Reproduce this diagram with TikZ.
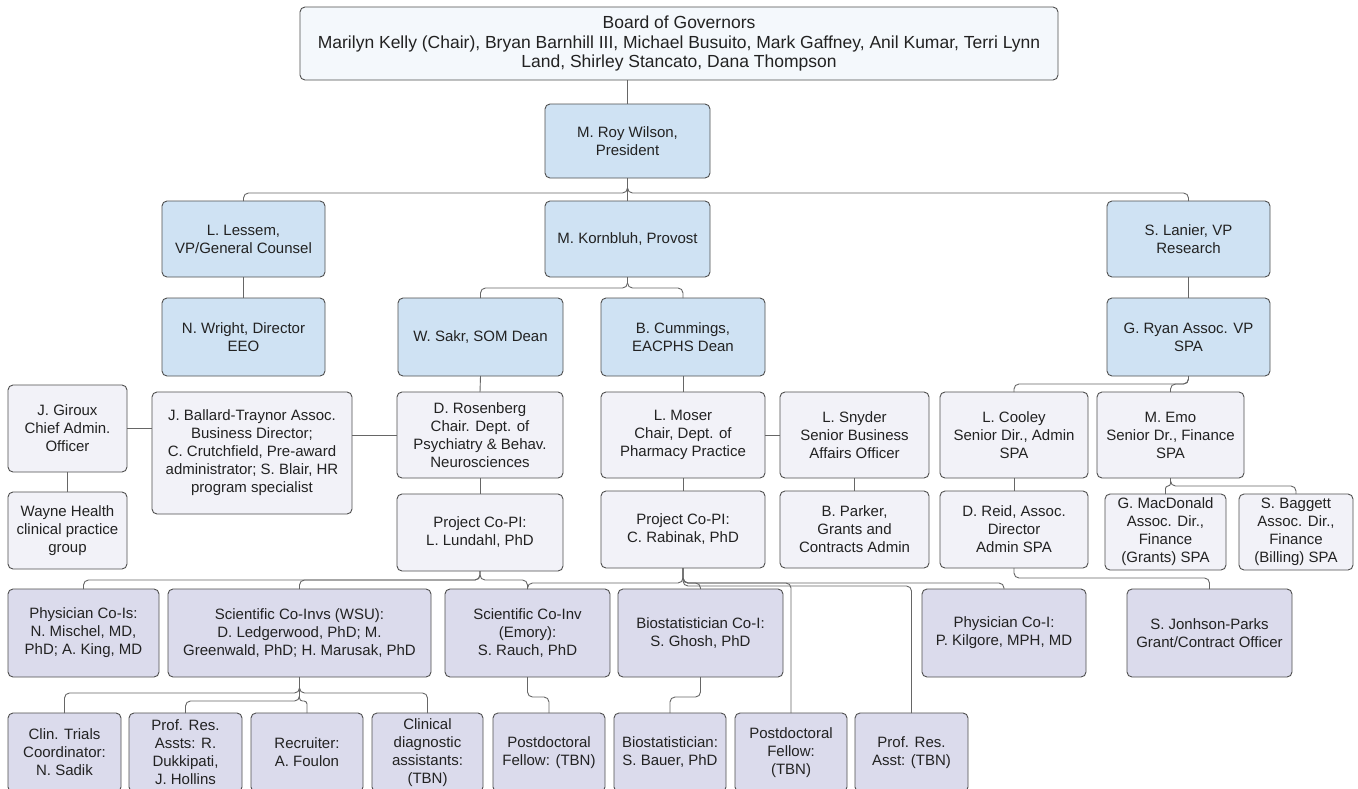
\documentclass[tikz,border=0pt]{standalone}
\usepackage{fontspec}
\setmainfont{Liberation Sans}
\definecolor{boardfill}{HTML}{F4F8FC}
\definecolor{bluefill}{HTML}{CFE2F3}
\definecolor{greyfill}{HTML}{F2F2F8}
\definecolor{lavfill}{HTML}{DBDBEC}
\definecolor{boxline}{HTML}{4F4F4F}
\definecolor{linec}{HTML}{666666}
\definecolor{txt}{HTML}{222222}
\newcommand\obox[7]{\node[#1, minimum width={(#4)-(#3)}, minimum height={(#6)-(#5)}] (#2) at ({((#3)+(#4))/2},{((#5)+(#6))/2}) {#7};}
\newcommand\elbow[4][]{\draw[link,#1] (#2.south) -- (#2.south |- #4) -| (#3.north);}
\begin{document}
\begin{tikzpicture}[x=1pt,y=-1pt,
  box/.style={draw=boxline, line width=0.9pt, rounded corners=5pt, align=center, inner sep=0pt, outer sep=0pt, text=txt, font=\fontsize{15}{18}\selectfont},
  topbox/.style={box, fill=boardfill, font=\fontsize{17.5}{19.5}\selectfont},
  bluebox/.style={box, fill=bluefill},
  greybox/.style={box, fill=greyfill},
  lavbox/.style={box, fill=lavfill},
  link/.style={draw=linec, line width=0.9pt, rounded corners=5pt}]
\fill[white] (0,0) rectangle (1358,788);
\useasboundingbox (0,0) rectangle (1358,788);
\clip (0,0) rectangle (1358,788);

% bus coordinates
\coordinate (busA) at (0,193);
\coordinate (busK) at (0,288);
\coordinate (busR) at (0,384);
\coordinate (busE) at (0,486);
\coordinate (busL) at (0,580);
\coordinate (busC) at (0,583);
\coordinate (busC2) at (0,586);
\coordinate (busD) at (0,578);
\coordinate (busW) at (0,693);
\coordinate (busW2) at (0,701);
\coordinate (busS) at (0,697);

% level 1-2
\obox{topbox}{board}{300}{1058}{7}{80}{Board of Governors\\Marilyn Kelly (Chair), Bryan Barnhill III, Michael Busuito, Mark Gaffney, Anil Kumar, Terri Lynn\\Land, Shirley Stancato, Dana Thompson}
\obox{bluebox}{wilson}{545}{710}{104}{178}{M. Roy Wilson,\\President}
% level 3
\obox{bluebox}{lessem}{162}{325}{201}{277}{L. Lessem,\\VP/General Counsel}
\obox{bluebox}{kornbluh}{545}{710}{201}{277}{M. Kornbluh, Provost}
\obox{bluebox}{lanier}{1107}{1270}{201}{277}{S. Lanier, VP\\Research}
% level 4
\obox{bluebox}{wright}{162}{325}{298}{376}{N. Wright, Director\\EEO}
\obox{bluebox}{sakr}{398}{563}{298}{376}{W. Sakr, SOM Dean}
\obox{bluebox}{cummings}{601}{765}{298}{376}{B. Cummings,\\EACPHS Dean}
\obox{bluebox}{ryan}{1107}{1270}{298}{376}{G. Ryan Assoc. VP\\SPA}
% level 5-6
\obox{greybox}{giroux}{8}{127}{385}{472}{J. Giroux\\Chief Admin.\\Officer}
\obox{greybox}{wayne}{8}{127}{492}{569}{Wayne Health\\clinical practice\\group}
\obox{greybox}{ballard}{152}{352}{392}{514}{J. Ballard-Traynor Assoc.\\Business Director;\\C. Crutchfield, Pre-award\\administrator; S. Blair, HR\\program specialist}
\obox{greybox}{rosenberg}{397}{563}{392}{478}{D. Rosenberg\\Chair. Dept. of\\Psychiatry \& Behav.\\Neurosciences}
\obox{greybox}{lundahl}{397}{563}{494}{571}{Project Co-PI:\\L. Lundahl, PhD}
\obox{greybox}{moser}{601}{765}{392}{478}{L. Moser\\Chair, Dept. of\\Pharmacy Practice}
\obox{greybox}{rabinak}{601}{765}{491}{568}{Project Co-PI:\\C. Rabinak, PhD}
\obox{greybox}{snyder}{780}{929}{392}{478}{L. Snyder\\Senior Business\\Affairs Officer}
\obox{greybox}{parker}{780}{929}{491}{568}{B. Parker,\\Grants and\\Contracts Admin}
\obox{greybox}{cooley}{940}{1088}{392}{478}{L. Cooley\\Senior Dir., Admin\\SPA}
\obox{greybox}{reid}{940}{1088}{491}{568}{D. Reid, Assoc.\\Director\\Admin SPA}
\obox{greybox}{emo}{1097}{1244}{392}{478}{M. Emo\\Senior Dr., Finance\\SPA}
\obox{greybox}{macd}{1105}{1226}{494}{570}{G. MacDonald\\Assoc. Dir.,\\Finance\\(Grants) SPA}
\obox{greybox}{baggett}{1239}{1353}{494}{570}{S. Baggett\\Assoc. Dir.,\\Finance\\(Billing) SPA}
% level 7
\obox{lavbox}{physician}{8}{159}{589}{677}{Physician Co-Is:\\N. Mischel, MD,\\PhD; A. King, MD}
\obox{lavbox}{wsu}{168}{431}{589}{677}{Scientific Co-Invs (WSU):\\D. Ledgerwood, PhD; M.\\Greenwald, PhD; H. Marusak, PhD}
\obox{lavbox}{emory}{445}{610}{589}{677}{Scientific Co-Inv\\(Emory):\\S. Rauch, PhD}
\obox{lavbox}{ghosh}{618}{783}{589}{677}{Biostatistician Co-I:\\S. Ghosh, PhD}
\obox{lavbox}{kilgore}{922}{1086}{589}{677}{Physician Co-I:\\P. Kilgore, MPH, MD}
\obox{lavbox}{jparks}{1127}{1292}{589}{677}{S. Jonhson-Parks\\Grant/Contract Officer}
% level 8
\obox{lavbox}{clin}{8}{121}{713}{792}{Clin. Trials\\Coordinator:\\N. Sadik}
\obox{lavbox}{profres}{129}{242}{713}{792}{Prof. Res.\\Assts: R.\\Dukkipati,\\J. Hollins}
\obox{lavbox}{recruiter}{251}{363}{713}{792}{Recruiter:\\A. Foulon}
\obox{lavbox}{clindiag}{372}{483}{713}{792}{Clinical\\diagnostic\\assistants:\\(TBN)}
\obox{lavbox}{postdoce}{493}{605}{713}{792}{Postdoctoral\\Fellow: (TBN)}
\obox{lavbox}{bauer}{614}{726}{713}{792}{Biostatistician:\\S. Bauer, PhD}
\obox{lavbox}{postdoct}{735}{847}{713}{792}{Postdoctoral\\Fellow:\\(TBN)}
\obox{lavbox}{profasst}{855}{968}{713}{792}{Prof. Res.\\Asst: (TBN)}

% straight connectors
\draw[link] (board.south -| wilson.north) -- (wilson.north);
\draw[link] (lessem.south) -- (wright.north);
\draw[link] (lanier.south) -- (ryan.north);
\draw[link] (sakr.south) -- (rosenberg.north);
\draw[link] (rosenberg.south) -- (lundahl.north);
\draw[link] (cummings.south) -- (moser.north);
\draw[link] (moser.south) -- (rabinak.north);
\draw[link] (snyder.south) -- (parker.north);
\draw[link] (cooley.south) -- (reid.north);
\draw[link] (giroux.south) -- (wayne.north);
\draw[link] (giroux.east) -- (giroux.east -| ballard.west);
\draw[link] (rosenberg.west) -- (rosenberg.west -| ballard.east);
\draw[link] (moser.east) -- (snyder.west);

% tree connectors
\elbow{wilson}{lessem}{busA}
\elbow{wilson}{kornbluh}{busA}
\elbow{wilson}{lanier}{busA}
\elbow{kornbluh}{sakr}{busK}
\elbow{kornbluh}{cummings}{busK}
\elbow{ryan}{cooley}{busR}
\elbow{ryan}{emo}{busR}
\elbow[rounded corners=2.5pt]{emo}{macd}{busE}
\elbow{emo}{baggett}{busE}
\elbow{lundahl}{physician}{busL}
\elbow{lundahl}{wsu}{busL}
\elbow{lundahl}{emory}{busL}
\elbow{rabinak}{emory}{busC}
\elbow{rabinak}{ghosh}{busC}
\elbow{rabinak}{postdoct}{busC}
\elbow{rabinak}{profasst}{busC2}
\elbow{rabinak}{kilgore}{busC}
\elbow{reid}{jparks}{busD}
\elbow{wsu}{clin}{busW}
\elbow{wsu}{profres}{busW2}
\elbow[rounded corners=3pt]{wsu}{recruiter}{busW2}
\elbow{wsu}{clindiag}{busW}
\elbow{emory}{postdoce}{busS}
\elbow{ghosh}{bauer}{busS}
\end{tikzpicture}
\end{document}
